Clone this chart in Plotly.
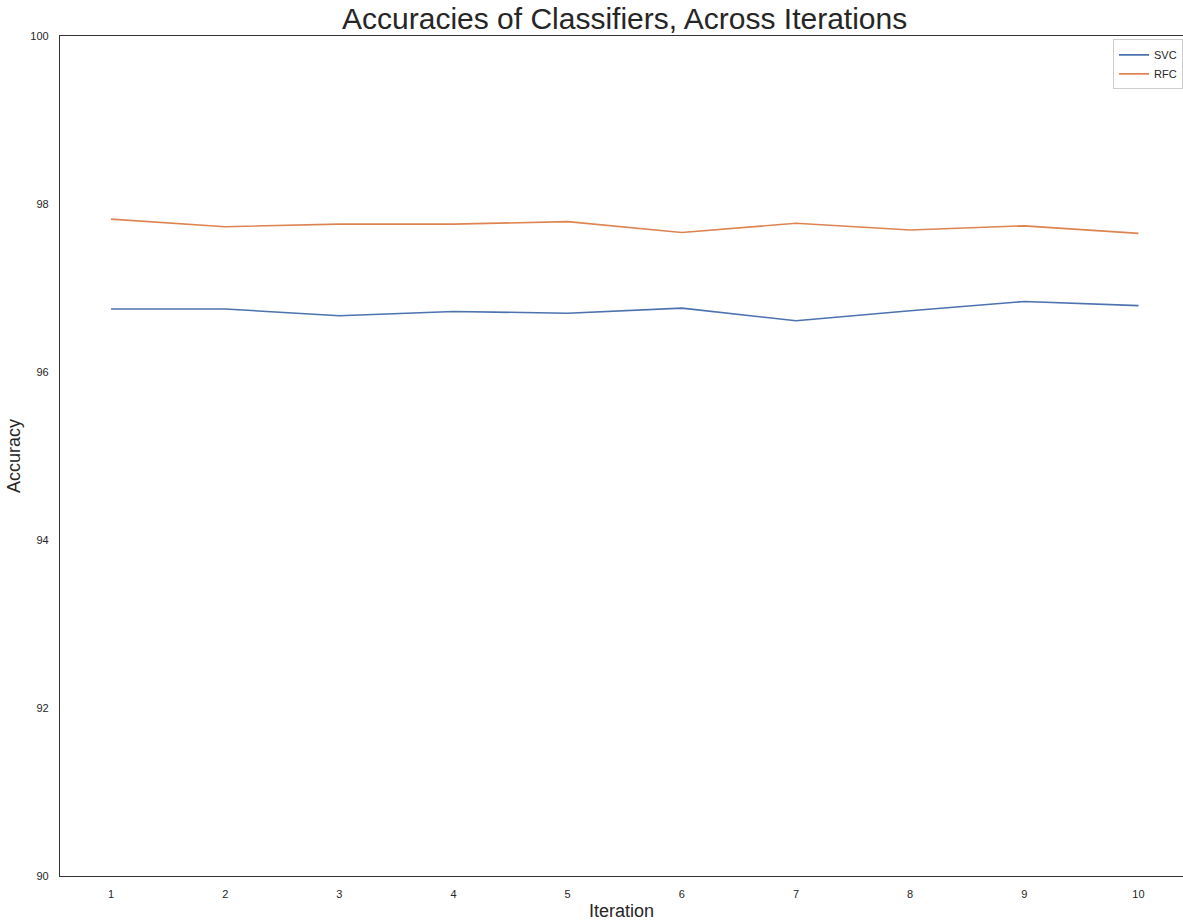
import plotly.graph_objects as go

iterations = [1, 2, 3, 4, 5, 6, 7, 8, 9, 10]
svc_acc = [96.75, 96.75, 96.67, 96.72, 96.70, 96.76, 96.61, 96.73, 96.84, 96.79]
rfc_acc = [97.82, 97.73, 97.76, 97.76, 97.79, 97.66, 97.77, 97.69, 97.74, 97.65]
y_ticks = [90, 92, 94, 96, 98, 100]

TXT = "#262626"
FONT = "Liberation Sans, Arial, sans-serif"

fig = go.Figure()
fig.add_trace(go.Scatter(x=iterations, y=svc_acc, mode="lines", name="SVC",
                         line=dict(color="#4c72b0", width=1.6)))
fig.add_trace(go.Scatter(x=iterations, y=rfc_acc, mode="lines", name="RFC",
                         line=dict(color="#dd8452", width=1.6)))

fig.update_layout(
    width=1183, height=921,
    margin=dict(l=60, r=0, t=36, b=42),
    paper_bgcolor="white", plot_bgcolor="white",
    font=dict(family=FONT, color=TXT, size=11),
    title=dict(text="Accuracies of Classifiers, Across Iterations",
               font=dict(size=30, color=TXT), x=0.528, xanchor="center",
               y=0.98, yanchor="middle"),
    showlegend=True,
    legend=dict(x=1.0, y=0.996, xanchor="right", yanchor="top",
                bordercolor="#cccccc", borderwidth=1, bgcolor="white",
                font=dict(size=11, color=TXT), itemwidth=30, tracegroupgap=0),
)
fig.update_xaxes(range=[0.553, 10.39], tickmode="array", tickvals=iterations,
                 showgrid=False, zeroline=False, showline=True, mirror=True,
                 linecolor="#333333", linewidth=1.3, ticks="",
                 ticklabelstandoff=8,
                 title=dict(text="Iteration", font=dict(size=18, color=TXT), standoff=8))
fig.update_yaxes(range=[90, 100], tickmode="array", tickvals=y_ticks,
                 showgrid=False, zeroline=False, showline=True, mirror=False,
                 linecolor="#333333", linewidth=1.3, ticks="",
                 ticklabelstandoff=8,
                 title=dict(text="Accuracy", font=dict(size=18, color=TXT), standoff=4))

fig.write_html("out.html", config={"displayModeBar": False},
               post_script="document.body.style.margin='0';document.body.style.overflow='hidden';")
